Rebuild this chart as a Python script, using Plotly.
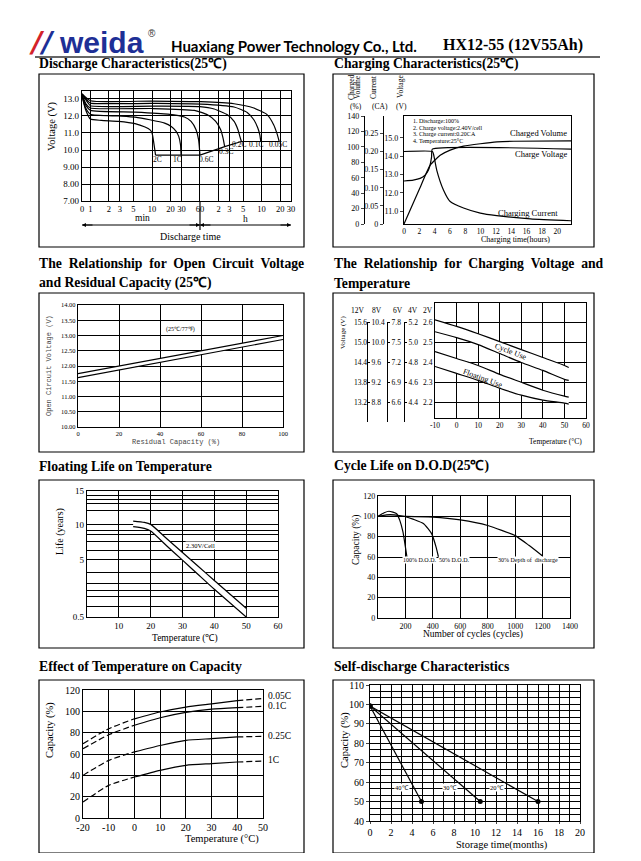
import numpy as np
import plotly.graph_objects as go

# Page is 641x861; the browser body keeps its default 8px margin, so the figure is 625x845.
PAGE_W, PAGE_H = 641, 861
OFF = 8
W, H = PAGE_W - 2 * OFF, PAGE_H - 2 * OFF
SERIF = "Liberation Serif"
MONO = "Liberation Mono"
SANS = "Lato"
NB = "\u00a0"

# ===================== DATA =====================
# --- Discharge characteristics (time in minutes, voltage V) ---
DIS_TICK_MIN = [0.73, 1, 2, 3, 5, 10, 20, 30, 60, 120, 180, 300, 600, 1200, 1800]
DIS_TICK_TEXT = ["0", "1", "2", "3", "5", "10", "20", "30", "60", "2", "3", "5", "10", "20", "30"]
DIS_V_TICKS = [7, 8, 9, 10, 11, 12, 13]
DIS_V_TEXT = ["7.00", "8.00", "9.00", "10.0", "11.0", "12.0", "13.0"]
T_2C = [0.73, 0.83, 1, 1.5, 2.85, 5.3, 7.7, 9.2, 10, 10.5, 11.1, 11.4]
V_2C = [13.2, 12.4, 11.82, 11.74, 11.68, 11.55, 11.35, 11.2, 11.0, 10.6, 10.0, 9.7]
T_1C = [0.73, 0.83, 1, 2.85, 5.3, 9.2, 16, 20.5, 24.6, 27.1, 29, 29.6]
V_1C = [13.2, 12.5, 12.1, 12.0, 11.93, 11.78, 11.58, 11.38, 11.1, 10.8, 10.3, 9.7]
T_06C = [0.73, 0.85, 1, 5.3, 18.1, 33.6, 43, 51.8, 57, 60]
V_06C = [13.25, 12.6, 12.33, 12.23, 12.11, 11.94, 11.68, 11.19, 10.6, 9.7]
T_03C = [0.73, 0.85, 1, 10, 48.6, 79.5, 108, 130, 142, 151]
V_03C = [13.25, 12.7, 12.47, 12.44, 12.33, 12.07, 11.68, 11.19, 10.7, 10.2]
T_02C = [0.73, 0.9, 1, 10, 60, 102, 167, 215, 248, 266, 282]
V_02C = [13.3, 12.8, 12.6, 12.58, 12.55, 12.41, 12.07, 11.68, 11.19, 10.8, 10.5]
T_01C = [0.73, 0.9, 1, 10, 62, 214, 350, 449, 521, 560, 582]
V_01C = [13.3, 12.9, 12.76, 12.74, 12.7, 12.53, 12.21, 11.78, 11.29, 10.9, 10.5]
T_005C = [0.73, 1, 10, 62, 214, 449, 735, 941, 1061, 1159]
V_005C = [13.3, 12.9, 12.88, 12.84, 12.72, 12.47, 12.08, 11.49, 10.99, 10.5]
CUT_T = [11.4, 29.6, 60, 151, 282, 582, 1159]
CUT_V = [9.7, 9.7, 9.7, 10.2, 10.5, 10.5, 10.5]
DIS_LABELS = ["2C", "1C", "0.6C", "0.3C", "0.2C", "0.1C", "0.05C"]
DIS_LABEL_T = [12.2, 26.3, 75, 157, 257, 494, 1125]
DIS_LABEL_V = [9.45, 9.45, 9.45, 9.9, 10.3, 10.3, 10.3]

# --- Charging characteristics (hours) ---
CHG_T_TICKS = [0, 2, 4, 6, 8, 10, 12, 14, 16, 18, 20]
CHG_V_TICKS = [11, 12, 13, 14, 15]
CHG_V_TEXT = ["11.0", "12.0", "13.0", "14.0", "15.0"]
CHG_I_TICKS = [0, 0.05, 0.10, 0.15, 0.20, 0.25]
CHG_I_TEXT = ["0", "0.05", "0.10", "0.15", "0.20", "0.25"]
CHG_P_TICKS = [0, 20, 40, 60, 80, 100, 120, 140]
CHG_TIME_V = [0, 1.2, 2.1, 2.75, 3.2, 3.4, 3.6, 3.7, 22]
CHG_VOLT = [12.64, 12.69, 12.78, 12.96, 13.24, 13.51, 13.96, 14.38, 14.38]
CHG_TIME_I = [0, 3.7, 3.84, 4.28, 5.15, 6.03, 7.77, 9.96, 12.1, 16.5, 21.8]
CHG_CURR = [0.2, 0.2, 0.194, 0.148, 0.094, 0.062, 0.044, 0.030, 0.023, 0.014, 0.009]
CHG_TIME_C = [0, 2.0, 3.4, 4.72, 6.03, 7.77, 9.96, 12.14, 14.3, 21.8]
CHG_VOL = [0, 45, 76, 89, 95.7, 100.9, 104, 106.4, 107.3, 107.7]
CHG_NOTES = ["1. Discharge:100%", "2. Charge voltage:2.40V/cell",
             "3. Charge current:0.20CA", "4. Temperature:25\u00b0C"]

# --- Open circuit voltage vs residual capacity ---
OCV_CAP = [0, 100]
OCV_UPPER = [11.75, 13.0]
OCV_LOWER = [11.62, 12.87]
OCV_Y_TICKS = [10, 10.5, 11, 11.5, 12, 12.5, 13, 13.5, 14]
OCV_Y_TEXT = ["10.00", "10.50", "11.00", "11.50", "12.00", "12.50", "13.00", "13.50", "14.00"]
OCV_X_TICKS = [0, 20, 40, 60, 80, 100]

# --- Charging voltage vs temperature (V per cell) ---
CV_TEMP = [-10, 0, 10, 20, 30, 40, 50, 52]
CYCLE_HI = [2.615, 2.582, 2.545, 2.505, 2.465, 2.425, 2.385, 2.375]
CYCLE_LO = [2.555, 2.525, 2.49, 2.445, 2.40, 2.36, 2.315, 2.31]
FLOAT_HI = [2.455, 2.42, 2.385, 2.34, 2.30, 2.26, 2.23, 2.225]
FLOAT_LO = [2.38, 2.345, 2.31, 2.27, 2.235, 2.21, 2.195, 2.19]
CV_X_TICKS = [-10, 0, 10, 20, 30, 40, 50, 60]
CV_X_TEXT = ["-10", "0", "10", "20", "30", "40", "50", "60"]
CELL_TICKS = [2.2, 2.3, 2.4, 2.5, 2.6]
BATT_CELLS = [6, 4, 3, 2]          # 12V, 8V, 6V, 4V
BATT_NAMES = ["12V", "8V", "6V", "4V", "2V"]

# --- Floating life vs temperature ---
LIFE_TICKS = [0.5, 5, 10, 15]
LIFE_TICK_TEXT = ["0.5", "5", "10", "15"]
LIFE_SCALE = [0.0, 0.456, 0.735, 1.0]
LIFE_GRID = [1.3, 2.1, 2.6, 3.1, 4.0, 6.3, 7.5, 8.5, 9.2, 12.1, 13.1, 13.8, 14.3]
LIFE_TEMP = [14.5, 18, 20, 25, 30, 35, 40, 50]
LIFE_UPPER = [10.5, 10.3, 10.0, 8.0, 6.0, 4.46, 3.36, 1.18]
LIFE_LOWER = [9.67, 9.43, 9.05, 6.97, 4.95, 3.81, 2.67, 0.5]
LIFE_X_TICKS = [10, 20, 30, 40, 50, 60]

# --- Cycle life ---
DOD100_CYC = [0, 45, 80, 136, 159, 182, 198, 211]
DOD100_CAP = [100, 103.5, 105, 102.6, 96, 84.6, 71.5, 60]
DOD50_CYC = [0, 60, 120, 195, 260, 333, 391, 423, 441]
DOD50_CAP = [100, 101.5, 101.5, 99.8, 97, 92.8, 83, 70, 60]
DOD30_CYC = [0, 200, 400, 600, 800, 1000, 1100, 1200]
DOD30_CAP = [100, 100, 99.3, 96.5, 91, 81, 71.5, 61]
CYC_X_TICKS = [200, 400, 600, 800, 1000, 1200, 1400]
CYC_Y_TICKS = [0, 20, 40, 60, 80, 100, 120]
CYC_LABELS = ["100% D.O.D.", "50% D.O.D.", "30% Depth of  discharge"]
CYC_LABEL_X = [175, 440, 870]

# --- Effect of temperature on capacity ---
CAP_TEMP = [-20, -10, 0, 10, 20, 30, 40, 50]
CAP_005C = [69.7, 83.7, 93, 99.4, 104, 107, 110, 112]
CAP_01C = [65, 78, 87, 94, 99, 102, 103.4, 104.7]
CAP_025C = [40, 54, 62, 68, 72.8, 74.4, 76, 76.6]
CAP_1C = [15, 30.6, 38.4, 44.7, 49.4, 51, 52.5, 53.4]
CAP_NAMES = ["0.05C", "0.1C", "0.25C", "1C"]
CAP_LABEL_Y = [114.5, 104.8, 76.5, 54]
TEMP_X_TICKS = [-20, -10, 0, 10, 20, 30, 40, 50]
TEMP_X_TEXT = ["-20", "-10", "0", "10", "20", "30", "40", "50"]

# --- Self discharge ---
SD_MONTHS_40 = [0, 4.9]
SD_MONTHS_30 = [0, 10.5]
SD_MONTHS_20 = [0, 16.0]
SD_CAP = [99.2, 50]
SD_NAMES = ["40\u2103", "30\u2103", "20\u2103"]
SD_LABEL_X = [3.0, 7.6, 12.1]

# ===================== HELPERS =====================
def PX(x):
    return (x - OFF) / W


def PY(y):
    return 1 - (y - OFF) / H


def dx(l, r):
    return [PX(l), PX(r)]


def dy(t, b):
    return [PY(b), PY(t)]


def axis(**kw):
    d = dict(showline=True, linecolor="black", linewidth=1.2, mirror=True, showgrid=True,
             gridcolor="black", gridwidth=1, zeroline=False, ticks="", tickangle=0, automargin=False,
             tickfont=dict(family=SERIF, size=9, color="black"), fixedrange=True)
    d.update(kw)
    return d


def ln(x, y, xa, ya, dash=None, shape="spline", width=1.2, fill=None, mode="lines", smoothing=0.6):
    line = dict(color="black", width=width, shape=shape)
    if shape == "spline":
        line["smoothing"] = smoothing
    if dash:
        line["dash"] = dash
    kw = dict(x=x, y=y, xaxis=xa, yaxis=ya, mode=mode, line=line, hoverinfo="skip", showlegend=False)
    if fill:
        kw["fill"] = fill
        kw["fillcolor"] = "white"
    if "markers" in mode:
        kw["marker"] = dict(color="black", size=5)
    return go.Scatter(**kw)


def A(x, y, text, size, family=SERIF, xanchor="left", yanchor="middle", angle=0, color="black"):
    return dict(x=PX(x), y=PY(y), xref="paper", yref="paper", text=text, showarrow=False,
                font=dict(family=family, size=size, color=color), xanchor=xanchor,
                yanchor=yanchor, textangle=angle, borderpad=0)


def D(x, y, xr, yr, text, size, family=SERIF, xanchor="center", yanchor="middle", angle=0, bg=None):
    d = dict(x=x, y=y, xref=xr, yref=yr, text=text, showarrow=False,
             font=dict(family=family, size=size, color="black"), xanchor=xanchor,
             yanchor=yanchor, textangle=angle, borderpad=0)
    if bg:
        d["bgcolor"] = bg
    return d


def spread(s):
    return s.replace(" ", " " + NB)


fig = go.Figure()
ann = []
shapes = []
lay = dict(template="none", width=W, height=H, margin=dict(l=0, r=0, t=0, b=0, pad=0, autoexpand=False),
           paper_bgcolor="white", plot_bgcolor="rgba(0,0,0,0)", showlegend=False, autosize=False,
           font=dict(family=SERIF, color="black"))

# ===================== HEADER =====================
ann.append(A(56, 42, "<b><i><span style='color:#d3222a'>/</span><span style='color:#1e2f96'>/</span></i></b>",
             28, family="DejaVu Sans", color="#d3222a", xanchor="right"))
ann.append(A(58, 42, "<b>weida</b>", 30, family="Liberation Sans", color="#1e2f96"))
ann.append(A(147, 33, "\u00ae", 10, family="Liberation Sans", color="#333333"))
ann.append(A(170, 46, "<b>Huaxiang Power Technology Co., Ltd.</b>", 15, family=SANS))
ann.append(A(442, 45, "<b>HX12-55 (12V55Ah)</b>", 16, family=SERIF))
shapes.append(dict(type="line", xref="paper", yref="paper", x0=PX(35), x1=PX(600), y0=PY(57), y1=PY(57),
                   line=dict(color="#333333", width=1.5)))

TITLES = [("Discharge Characteristics(25\u2103)", 38, 64), ("Charging Characteristics(25\u2103)", 333, 64),
          (spread("The Relationship for Open Circuit Voltage"), 38, 264),
          ("and Residual Capacity (25\u2103)", 38, 283),
          (spread("The Relationship for Charging Voltage and"), 333, 264), ("Temperature", 333, 283),
          ("Floating Life on Temperature", 38, 466), ("Cycle Life on D.O.D(25\u2103)", 333, 466),
          ("Effect of Temperature on Capacity", 38, 666), ("Self-discharge Characteristics", 333, 666)]
for t, x, y in TITLES:
    ann.append(A(x, y, "<b>" + t + "</b>", 13.7))

BOXES = [(39, 74, 304, 247), (333, 74, 594, 247), (39, 293, 304, 452), (333, 293, 594, 452),
         (39, 480, 304, 648), (333, 480, 594, 648), (39, 680, 304, 853), (333, 680, 594, 853)]
for l, t, r, b in BOXES:
    shapes.append(dict(type="rect", xref="paper", yref="paper", x0=PX(l), x1=PX(r), y0=PY(b), y1=PY(t),
                       line=dict(color="black", width=1.2)))

# ===================== P1 DISCHARGE =====================
P1 = (82, 91, 291, 201)
lr = [np.log10(0.73), np.log10(1800)]
lay["xaxis"] = axis(type="log", domain=dx(P1[0], P1[2]), range=lr, tickmode="array",
                    tickvals=DIS_TICK_MIN, ticktext=DIS_TICK_TEXT, anchor="y", gridwidth=1.3,
                    tickfont=dict(family=SERIF, size=8.5, color="black"))
lay["yaxis"] = axis(domain=dy(P1[1], P1[3]), range=[7, 13.47], tickmode="array",
                    tickvals=DIS_V_TICKS, ticktext=DIS_V_TEXT, anchor="x", gridwidth=1.3)
for t, v in [(T_2C, V_2C), (T_1C, V_1C), (T_06C, V_06C), (T_03C, V_03C), (T_02C, V_02C),
             (T_01C, V_01C), (T_005C, V_005C)]:
    fig.add_trace(ln(t, v, "x", "y", smoothing=0.5))
fig.add_trace(ln(CUT_T, CUT_V, "x", "y", shape="linear"))
for s, t, v in zip(DIS_LABELS, DIS_LABEL_T, DIS_LABEL_V):
    ann.append(D(np.log10(t), v, "x", "y", s, 7.5))


def x1p(v):
    return PX(P1[0]) + (np.log10(v) - lr[0]) / (lr[1] - lr[0]) * (PX(P1[2]) - PX(P1[0]))


shapes.append(dict(type="line", xref="paper", yref="paper", x0=x1p(60), x1=x1p(60), y0=PY(P1[3]), y1=PY(230),
                   line=dict(color="black", width=1.2)))
shapes.append(dict(type="line", xref="paper", yref="paper", x0=x1p(0.73), x1=x1p(1800), y0=PY(225), y1=PY(225),
                   line=dict(color="black", width=1)))
for xv, off in [(0.73, 12), (60, -12), (60, 12), (1800, -12)]:
    ann.append(dict(x=x1p(xv), y=PY(225), xref="paper", yref="paper", text="", showarrow=True,
                    ax=off, ay=0, arrowhead=2, arrowsize=0.8, arrowwidth=1, arrowcolor="black"))
ann.append(A(142, 218, "min", 9.5, xanchor="center"))
ann.append(A(245, 218.5, "h", 9.5, xanchor="center"))
ann.append(A(190, 236, "Discharge time", 10, xanchor="center"))
ann.append(A(52, 126, "Voltage (V)", 10.5, xanchor="center", angle=-90))

# ===================== P2 CHARGING =====================
P2 = (404, 116, 571, 224)
f8 = dict(family=SERIF, size=8, color="black")
f75 = dict(family=SERIF, size=7.5, color="black")
lay["xaxis2"] = axis(domain=dx(P2[0], P2[2]), range=[0, 21.8], tickvals=CHG_T_TICKS, showgrid=False,
                     anchor="y2", tickfont=f75)
lay["yaxis2"] = axis(domain=dy(P2[1], P2[3]), range=[10.29, 16.19], tickvals=CHG_V_TICKS, ticktext=CHG_V_TEXT,
                     showgrid=False, anchor="x2", ticks="outside", ticklen=3, tickfont=f8)
lay["yaxis3"] = axis(domain=dy(P2[1], P2[3]), overlaying="y2", anchor="free", position=PX(383), side="left",
                     range=[0, 0.298], tickvals=CHG_I_TICKS, ticktext=CHG_I_TEXT, showgrid=False, mirror=False,
                     ticks="outside", ticklen=3, tickfont=f8)
lay["yaxis4"] = axis(domain=dy(P2[1], P2[3]), overlaying="y2", anchor="free", position=PX(364), side="left",
                     range=[0, 140], tickvals=CHG_P_TICKS, showgrid=False, mirror=False,
                     ticks="outside", ticklen=3, tickfont=f8)
fig.add_trace(ln(CHG_TIME_V, CHG_VOLT, "x2", "y2", smoothing=0.4))
fig.add_trace(ln(CHG_TIME_I, CHG_CURR, "x2", "y3", smoothing=0.5))
fig.add_trace(ln(CHG_TIME_C, CHG_VOL, "x2", "y4", smoothing=0.5))
for i, s in enumerate(CHG_NOTES):
    ann.append(A(412, 121 + i * 6.7, s, 6))
ann.append(A(568, 133, "Charged Volume", 8.5, xanchor="right"))
ann.append(A(568, 154, "Charge Voltage", 8.5, xanchor="right"))
ann.append(A(559, 213, "Charging Current", 8.5, xanchor="right"))
ann.append(A(515, 239, "Charging time(hours)", 8, xanchor="center"))
ann.append(A(352, 87, "Charged", 7.5, xanchor="center", angle=-90))
ann.append(A(358, 87, "Volume", 7.5, xanchor="center", angle=-90))
ann.append(A(374, 87, "Current", 7.5, xanchor="center", angle=-90))
ann.append(A(401, 87, "Voltage", 7.5, xanchor="center", angle=-90))
ann.append(A(356, 106.5, "(%)", 7.5, xanchor="center"))
ann.append(A(380, 106.5, "(CA)", 7.5, xanchor="center"))
ann.append(A(401, 106.5, "(V)", 7.5, xanchor="center"))

# ===================== P3 OCV =====================
P3 = (78, 305, 283, 427)
f6 = dict(family=SERIF, size=6.5, color="black")
lay["xaxis3"] = axis(domain=dx(P3[0], P3[2]), range=[0, 100], tickvals=OCV_X_TICKS, anchor="y5",
                     tickfont=f6, gridwidth=1.2)
lay["yaxis5"] = axis(domain=dy(P3[1], P3[3]), range=[10, 14], tickvals=OCV_Y_TICKS, ticktext=OCV_Y_TEXT,
                     anchor="x3", tickfont=f6, gridwidth=1.2)
fig.add_trace(ln(OCV_CAP, OCV_UPPER, "x3", "y5", shape="linear"))
fig.add_trace(ln(OCV_CAP, OCV_LOWER, "x3", "y5", shape="linear", fill="tonexty"))
ann.append(D(50, 13.2, "x3", "y5", "(25\u2103/77\u2109)", 6))
ann.append(A(49, 366, "Open Circuit Voltage (V)", 7, family=MONO, angle=-90, xanchor="center", color="#444444"))
ann.append(A(176, 442, "Residual Capacity (%)", 7, family=MONO, xanchor="center", color="#444444"))

# ===================== P4 CHARGING VOLTAGE vs TEMP =====================
P4 = (435, 303, 586, 418)
lay["xaxis4"] = axis(domain=dx(P4[0], P4[2]), range=[-10, 60], tickvals=CV_X_TICKS, ticktext=CV_X_TEXT,
                     anchor="y6", tickfont=f75, gridwidth=1.2)
lay["yaxis6"] = axis(domain=dy(P4[1], P4[3]), range=[2.12, 2.7], tickvals=CELL_TICKS,
                     ticktext=["%.1f" % v for v in CELL_TICKS], anchor="x4", tickfont=f75, gridwidth=1.2)
lay["xaxis9"] = dict(visible=False, domain=dx(P4[0], P4[2]), range=[0, 1], anchor="y7", fixedrange=True,
                     automargin=False)
pos = [367, 367, 387, 404]
sides = ["left", "right", "right", "right"]
for k, (n, p, sd) in enumerate(zip(BATT_CELLS, pos, sides)):
    name = "yaxis%d" % (7 + k)
    vals = [round(v * n, 2) for v in CELL_TICKS]
    lay[name] = dict(anchor="free", position=PX(p), side=sd, domain=dy(322, 422), range=[2.1 * n, 2.6 * n],
                     tickvals=vals, ticktext=["%.1f" % v for v in vals], showgrid=False, zeroline=False,
                     showline=(k > 0), linecolor="black", linewidth=1.2, automargin=False,
                     ticks=("outside" if k > 0 else ""), ticklen=2, tickcolor="black",
                     tickfont=f75, fixedrange=True)
    fig.add_trace(go.Scatter(x=[0.5], y=[2.3 * n], xaxis="x9", yaxis="y%d" % (7 + k), mode="markers",
                             marker=dict(opacity=0), hoverinfo="skip", showlegend=False))
fig.add_trace(ln(CV_TEMP, CYCLE_HI, "x4", "y6"))
fig.add_trace(ln(CV_TEMP, CYCLE_LO, "x4", "y6", fill="tonexty"))
fig.add_trace(ln(CV_TEMP, FLOAT_HI, "x4", "y6"))
fig.add_trace(ln(CV_TEMP, FLOAT_LO, "x4", "y6", fill="tonexty"))
ann.append(D(25, 2.455, "x4", "y6", "Cycle Use", 8, angle=21))
ann.append(D(12.4, 2.32, "x4", "y6", "Floating Use", 8, angle=20))
for s, x in zip(BATT_NAMES, [358, 377, 398, 413, 428]):
    ann.append(A(x, 311, s, 7.5, xanchor="center"))
ann.append(A(343, 333, "Voltage (V)", 7, angle=-90, xanchor="center"))
ann.append(A(555, 441, "Temperature (\u00b0C)", 7.5, xanchor="center"))

# ===================== P5 FLOATING LIFE =====================
P5 = (87, 491, 278, 617)


def life_axis(v):
    return np.interp(v, LIFE_TICKS, LIFE_SCALE)


grid_vals = list(life_axis(LIFE_GRID)) + list(life_axis(LIFE_TICKS))
grid_text = [""] * len(LIFE_GRID) + LIFE_TICK_TEXT
lay["xaxis5"] = axis(domain=dx(P5[0], P5[2]), range=[0, 60], tickvals=LIFE_X_TICKS, anchor="y11", gridwidth=1.2)
lay["yaxis11"] = axis(domain=dy(P5[1], P5[3]), range=[0, 1], tickvals=grid_vals, ticktext=grid_text,
                      anchor="x5", gridwidth=1.2)
fig.add_trace(ln(LIFE_TEMP, life_axis(LIFE_UPPER), "x5", "y11", smoothing=0.5))
fig.add_trace(ln(LIFE_TEMP, life_axis(LIFE_LOWER), "x5", "y11", smoothing=0.5, fill="tonexty"))
ann.append(D(35.6, float(life_axis(6.95)), "x5", "y11", "2.30V/Cell", 6.5, bg="white"))
ann.append(A(60, 532, "Life (years)", 10, angle=-90, xanchor="center"))
ann.append(A(185, 638, "Temperature (\u2103)", 9.5, xanchor="center"))

# ===================== P6 CYCLE LIFE =====================
P6 = (378, 496, 570, 618)
lay["xaxis6"] = axis(domain=dx(P6[0], P6[2]), range=[0, 1400], tickvals=CYC_X_TICKS, anchor="y12",
                     tickfont=f8, gridwidth=1.2)
lay["yaxis12"] = axis(domain=dy(P6[1], P6[3]), range=[0, 120], tickvals=CYC_Y_TICKS, anchor="x6",
                      tickfont=f8, gridwidth=1.2)
fig.add_trace(ln(DOD100_CYC, DOD100_CAP, "x6", "y12", smoothing=0.5))
fig.add_trace(ln(DOD50_CYC, DOD50_CAP, "x6", "y12", smoothing=0.5))
fig.add_trace(ln(DOD30_CYC, DOD30_CAP, "x6", "y12", smoothing=0.5))
for s, x in zip(CYC_LABELS, CYC_LABEL_X):
    ann.append(D(x, 57.5, "x6", "y12", s, 6, xanchor="left", bg="white"))
ann.append(A(356, 540, "Capacity (%)", 9.5, angle=-90, xanchor="center"))
ann.append(A(473, 634, "Number of cycles (cycles)", 9.5, xanchor="center"))

# ===================== P7 TEMP vs CAPACITY =====================
P7 = (83, 690, 263, 818)
f10 = dict(family=SERIF, size=10, color="black")
lay["xaxis7"] = axis(domain=dx(P7[0], P7[2]), range=[-20, 50], tickvals=TEMP_X_TICKS, ticktext=TEMP_X_TEXT,
                     anchor="y13", tickfont=f10, gridwidth=1.3)
lay["yaxis13"] = axis(domain=dy(P7[1], P7[3]), range=[0, 120], tickvals=CYC_Y_TICKS, anchor="x7",
                      tickfont=f10, gridwidth=1.3)
for ys in [CAP_005C, CAP_01C, CAP_025C, CAP_1C]:
    fig.add_trace(ln(CAP_TEMP[:3], ys[:3], "x7", "y13", dash="6px,3px"))
    fig.add_trace(ln(CAP_TEMP[2:7], ys[2:7], "x7", "y13"))
    fig.add_trace(ln(CAP_TEMP[6:], ys[6:], "x7", "y13", dash="6px,3px"))
for s, yv in zip(CAP_NAMES, CAP_LABEL_Y):
    ann.append(dict(x=PX(266), y=yv, xref="paper", yref="y13", text=s, showarrow=False, xanchor="left",
                    yanchor="middle", font=dict(family=SERIF, size=9.5, color="black")))
ann.append(A(50, 730, "Capacity (%)", 10.5, angle=-90, xanchor="center"))
ann.append(A(222, 839, "Temperature (\u00b0C)", 10.5, xanchor="center"))

# ===================== P8 SELF DISCHARGE =====================
P8 = (370, 685, 580, 821)
lay["xaxis8"] = axis(domain=dx(P8[0], P8[2]), range=[0, 20], tick0=0, dtick=2, anchor="y14", tickfont=f10,
                     ticks="outside", ticklen=2, gridwidth=1.2,
                     minor=dict(dtick=1, showgrid=True, gridcolor="black", gridwidth=1.2))
lay["yaxis14"] = axis(domain=dy(P8[1], P8[3]), range=[40, 110], tick0=40, dtick=10, anchor="x8", tickfont=f10,
                      ticks="outside", ticklen=3, gridwidth=1.2,
                      minor=dict(dtick=10 / 3, showgrid=True, gridcolor="black", gridwidth=1))
for xs in [SD_MONTHS_40, SD_MONTHS_30, SD_MONTHS_20]:
    fig.add_trace(ln(xs, SD_CAP, "x8", "y14", shape="linear", mode="lines+markers"))
for s, x in zip(SD_NAMES, SD_LABEL_X):
    ann.append(D(x, 57, "x8", "y14", s, 6.5, bg="white"))
ann.append(A(345, 740, "Capacity (%)", 10.5, angle=-90, xanchor="center"))
ann.append(A(502, 845, "Storage time(months)", 10.5, xanchor="center"))

lay["annotations"] = ann
lay["shapes"] = shapes
fig.update_layout(**lay)
fig.write_html("out.html", config={"displayModeBar": False})
